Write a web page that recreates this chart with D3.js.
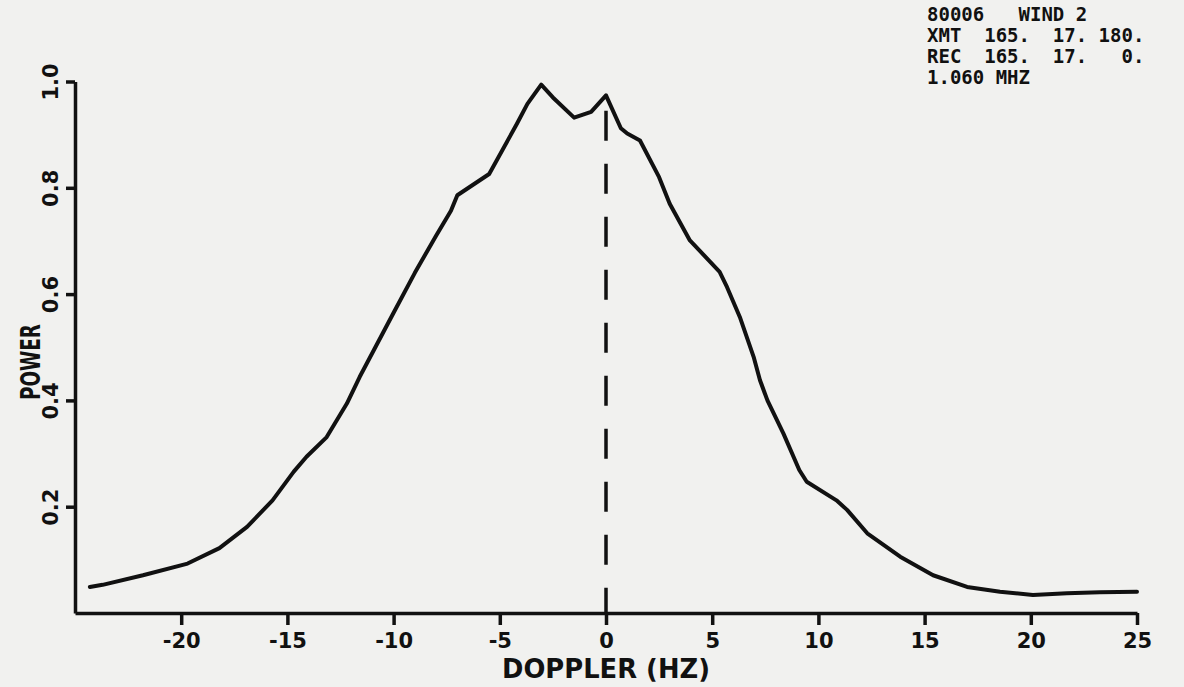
<!DOCTYPE html>
<html>
<head>
<meta charset="utf-8">
<script src="https://cdn.jsdelivr.net/npm/d3@7"></script>
<style>
    html, body { margin: 0; padding: 0; background: #f1f1ef; }
    svg { display: block; }
    text { fill: #111; }
</style>
</head>
<body>
<div id="data-visualization"></div>
<script>
// values
const dopplerHz = [-24.3, -23.7, -21.8, -19.7, -18.2, -16.9, -15.7, -14.7, -14.1, -13.15, -12.2, -11.6,
    -10, -9, -8, -7.3, -7.0, -5.5, -4.2, -3.7, -3.05, -2.5, -1.5, -0.7, 0, 0.7, 1.0, 1.6, 2.5, 3.0,
    3.95, 5.35, 5.7, 6.3, 6.95, 7.25, 7.6, 8.35, 9.1, 9.45, 10.85, 11.35, 12.3, 13.85, 15.4, 17,
    18.55, 20.1, 21.7, 23.25, 25];
const power = [0.049, 0.053, 0.071, 0.093, 0.122, 0.162, 0.212, 0.266, 0.294, 0.331, 0.394, 0.444,
    0.565, 0.64, 0.71, 0.757, 0.786, 0.826, 0.92, 0.958, 0.994, 0.97, 0.932, 0.943, 0.974, 0.912, 0.902, 0.889, 0.82, 0.77,
    0.701, 0.642, 0.613, 0.557, 0.482, 0.438, 0.40, 0.338, 0.269, 0.247, 0.212, 0.194, 0.15, 0.106, 0.071, 0.049,
    0.040, 0.034, 0.037, 0.039, 0.040];
const xTicks = [-20, -15, -10, -5, 0, 5, 10, 15, 20, 25];
const yTicks = [0.2, 0.4, 0.6, 0.8, 1.0];
const markerHz = 0;
const markerTop = 0.945;
const headerLines = [
    "80006   WIND 2",
    "XMT  165.  17. 180.",
    "REC  165.  17.   0.",
    "1.060 MHZ"
];

const svg_width = 1184, svg_height = 687;
const ink = "#111";

let svg = d3.select("#data-visualization")
    .append("svg")
    .attr("width", svg_width)
    .attr("height", svg_height);

let xScale = d3.scaleLinear().domain([-25, 25]).range([75, 1137]);
let yScale = d3.scaleLinear().domain([0, 1]).range([613, 81.5]);

// x axis
let xAxis = svg.append("g")
    .attr("transform", "translate(0," + yScale(0) + ")")
    .call(d3.axisBottom(xScale)
        .tickValues(xTicks)
        .tickSize(12)
        .tickSizeOuter(0)
        .tickPadding(8)
        .tickFormat(d => String(d)));
xAxis.select(".domain").attr("stroke", ink).attr("stroke-width", 3.5);
xAxis.selectAll(".tick line").attr("stroke", ink).attr("stroke-width", 3.5);
xAxis.selectAll(".tick text")
    .attr("fill", ink)
    .style("font-family", "DejaVu Sans")
    .style("font-weight", "bold")
    .style("font-size", "21px");

// y axis, labels turned to read upwards
let yAxis = svg.append("g")
    .attr("transform", "translate(" + xScale(-25) + ",0)")
    .call(d3.axisLeft(yScale)
        .tickValues(yTicks)
        .tickSize(9)
        .tickSizeOuter(0)
        .tickFormat(d => d.toFixed(1)));
yAxis.select(".domain").attr("stroke", ink).attr("stroke-width", 3.5);
yAxis.selectAll(".tick line").attr("stroke", ink).attr("stroke-width", 3.5);
yAxis.selectAll(".tick text")
    .attr("fill", ink)
    .attr("transform", "rotate(-90)")
    .attr("x", 0)
    .attr("y", -17)
    .attr("dy", 0)
    .attr("text-anchor", "middle")
    .style("font-family", "DejaVu Sans")
    .style("font-weight", "bold")
    .style("font-size", "21px");

// dashed marker at zero doppler
svg.append("line")
    .attr("x1", xScale(markerHz))
    .attr("x2", xScale(markerHz))
    .attr("y1", yScale(markerTop))
    .attr("y2", yScale(0))
    .attr("stroke", ink)
    .attr("stroke-width", 3.5)
    .attr("stroke-dasharray", "30,23");

// spectrum
let line = d3.line()
    .x(d => xScale(d[0]))
    .y(d => yScale(d[1]))
    .curve(d3.curveLinear);
svg.append("path")
    .datum(dopplerHz.map((h, i) => [h, power[i]]))
    .attr("d", line)
    .attr("fill", "none")
    .attr("stroke", ink)
    .attr("stroke-width", 4)
    .attr("stroke-linejoin", "round")
    .attr("stroke-linecap", "round");

// axis titles
svg.append("text")
    .attr("x", xScale(0))
    .attr("y", 678)
    .attr("text-anchor", "middle")
    .attr("textLength", 208)
    .attr("lengthAdjust", "spacingAndGlyphs")
    .style("font-family", "DejaVu Sans")
    .style("font-weight", "bold")
    .style("font-size", "26px")
    .text("DOPPLER (HZ)");
svg.append("text")
    .attr("transform", "translate(40," + 362 + ") rotate(-90)")
    .attr("text-anchor", "middle")
    .attr("textLength", 76)
    .attr("lengthAdjust", "spacingAndGlyphs")
    .style("font-family", "DejaVu Sans")
    .style("font-weight", "bold")
    .style("font-size", "27px")
    .text("POWER");

// run header, top right
svg.append("g")
    .selectAll("text")
    .data(headerLines)
    .enter()
    .append("text")
    .attr("x", 927)
    .attr("y", (d, i) => 21 + i * 21)
    .attr("xml:space", "preserve")
    .style("white-space", "pre")
    .style("font-family", "DejaVu Sans Mono")
    .style("font-weight", "bold")
    .style("font-size", "19px")
    .text(d => d);
</script>
</body>
</html>
